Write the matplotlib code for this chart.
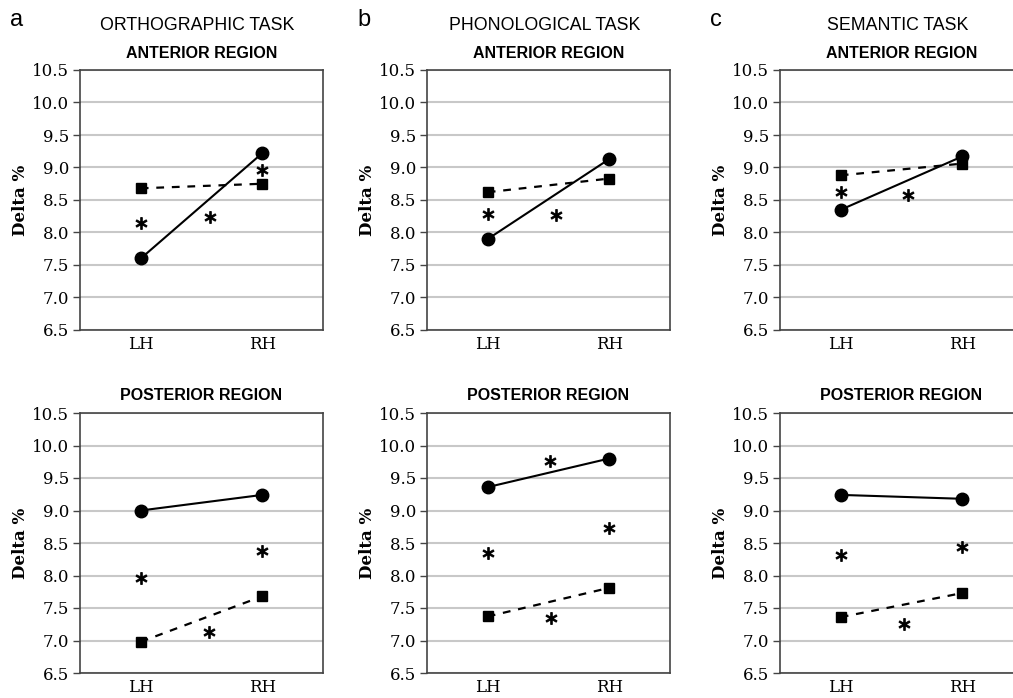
import numpy as np
import matplotlib.pyplot as plt

hemis = ['LH', 'RH']
tasks = ['ORTHOGRAPHIC TASK', 'PHONOLOGICAL TASK', 'SEMANTIC TASK']
letters = ['a', 'b', 'c']
regions = ['ANTERIOR REGION', 'POSTERIOR REGION']

# circle series (solid line) and square series (dashed line), [task][region]
circle_vals = [
    [[7.60, 9.22], [9.00, 9.24]],
    [[7.90, 9.13], [9.36, 9.80]],
    [[8.35, 9.17], [9.24, 9.18]],
]
square_vals = [
    [[8.68, 8.75], [6.98, 7.68]],
    [[8.62, 8.83], [7.37, 7.81]],
    [[8.88, 9.06], [7.36, 7.73]],
]
# significance stars (x position, y value)
star_x = [
    [[0.0, 0.57, 1.0], [0.0, 0.56, 1.0]],
    [[0.0, 0.56], [0.0, 1.0, 0.51, 0.52]],
    [[0.0, 0.55], [0.0, 1.0, 0.52]],
]
star_y = [
    [[8.15, 8.24, 8.96], [7.96, 7.13, 8.38]],
    [[8.29, 8.27], [8.35, 8.73, 9.76, 7.35]],
    [[8.63, 8.58], [8.32, 8.44, 7.25]],
]

yticks = [6.5, 7.0, 7.5, 8.0, 8.5, 9.0, 9.5, 10.0, 10.5]

fig = plt.figure(figsize=(10.13, 6.98), dpi=100)

lefts = [80, 427, 780]
tops = [70, 413]
w_px, h_px = 243, 260

for t in range(3):
    for r in range(2):
        ax = fig.add_axes([lefts[t] / 1013, 1 - (tops[r] + h_px) / 698, w_px / 1013, h_px / 698])
        x = np.arange(len(hemis))
        ax.plot(x, square_vals[t][r], color='black', linestyle=(0, (3.5, 3.5)), linewidth=1.6,
                marker='s', markersize=7, zorder=3)
        ax.plot(x, circle_vals[t][r], color='black', linestyle='-', linewidth=1.5,
                marker='o', markersize=9, zorder=3)
        ax.plot(star_x[t][r], star_y[t][r], linestyle='none', marker=r'$\ast$',
                markersize=8.5, color='black', markeredgewidth=0.7, zorder=4)
        ax.set_xlim(-0.5, 1.5)
        ax.set_ylim(6.5, 10.5)
        ax.set_yticks(yticks)
        ax.set_yticklabels([f'{v:.1f}' for v in yticks], family='DejaVu Serif', fontsize=12)
        ax.set_xticks(x)
        ax.set_xticklabels(hemis, family='DejaVu Serif', fontsize=12)
        ax.tick_params(axis='x', length=0, pad=4)
        ax.tick_params(axis='y', length=5, width=1, color='#444444', pad=3)
        ax.yaxis.grid(True, color='#c8c8c8', linewidth=1.5)
        ax.set_axisbelow(True)
        for s in ax.spines.values():
            s.set_color('#444444')
            s.set_linewidth(1.2)
        ax.set_ylabel('Delta %', family='DejaVu Serif', fontweight='bold', fontsize=12, labelpad=2)
        ax.set_title(regions[r], fontsize=11.5, fontweight='bold', family='Liberation Sans', pad=9)
        if r == 0:
            cx = (lefts[t] + w_px / 2 - 4) / 1013
            fig.text(cx, 1 - 25 / 698, tasks[t], ha='center', va='center',
                     fontsize=12.8, family='Liberation Sans')
            fig.text((lefts[t] - 70) / 1013, 1 - 20 / 698, letters[t], ha='left', va='center',
                     fontsize=17, family='Liberation Sans')

fig.savefig('out.png', dpi=100)
